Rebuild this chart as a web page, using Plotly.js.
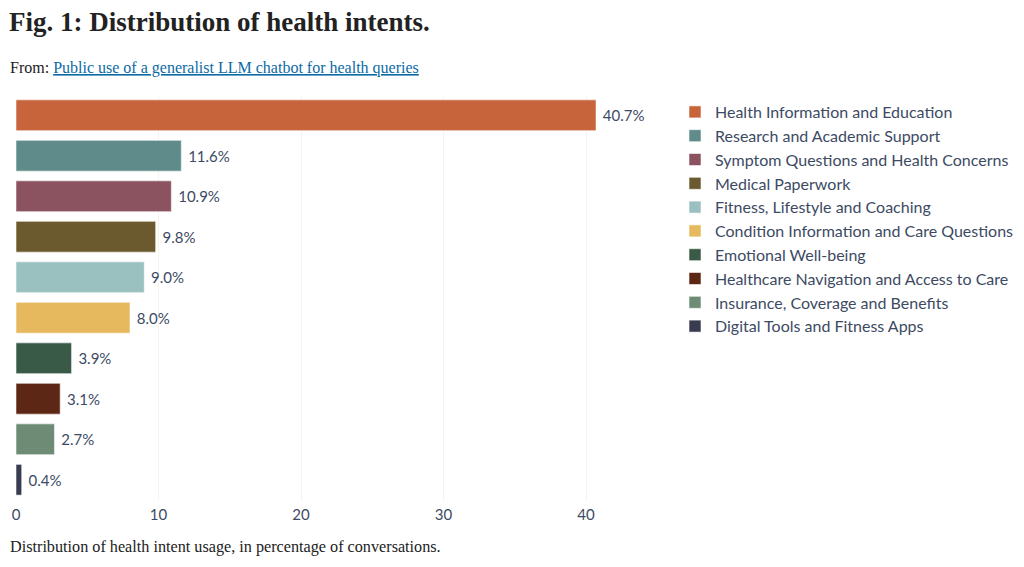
<!DOCTYPE html>
<html>
<head>
<meta charset="utf-8">
<script src="https://cdn.plot.ly/plotly-3.0.1.min.js"></script>
<style>html,body{margin:0;padding:0;background:#fff;}#chart{width:1024px;height:567px;}</style>
</head>
<body>
<div id="chart"></div>
<script>
const categories = [
  "Health Information and Education",
  "Research and Academic Support",
  "Symptom Questions and Health Concerns",
  "Medical Paperwork",
  "Fitness, Lifestyle and Coaching",
  "Condition Information and Care Questions",
  "Emotional Well-being",
  "Healthcare Navigation and Access to Care",
  "Insurance, Coverage and Benefits",
  "Digital Tools and Fitness Apps"
];
const values = [40.7, 11.6, 10.9, 9.8, 9.0, 8.0, 3.9, 3.1, 2.7, 0.4];
const valueLabels = ["40.7%", "11.6%", "10.9%", "9.8%", "9.0%", "8.0%", "3.9%", "3.1%", "2.7%", "0.4%"];
const xTicks = [0, 10, 20, 30, 40];
const colors = ["#C8643C", "#5F8C8A", "#8B5260", "#6B5A2E", "#9AC0C0", "#E6B95E", "#3A5A48", "#5C2714", "#6E8C75", "#393C50"];

const traces = categories.map((c, i) => ({
  type: "bar",
  orientation: "h",
  name: c,
  y: [c],
  x: [values[i]],
  text: [valueLabels[i]],
  texttemplate: " %{text}",
  textposition: "outside",
  cliponaxis: false,
  textfont: {family: "Lato, sans-serif", size: 15, color: "#3d4a63"},
  marker: {color: colors[i], line: {color: "rgba(255,255,255,0.55)", width: 1}},
  legendgroup: "g" + i,
  hoverinfo: "x+name"
}));

const layout = {
  width: 1024, height: 567,
  margin: {l: 16, r: 360, t: 95, b: 67},
  paper_bgcolor: "#fff", plot_bgcolor: "#fff",
  barmode: "overlay",
  bargap: 0.24,
  font: {family: "Lato, sans-serif", color: "#3d4a63"},
  title: {
    text: "<b>Fig. 1: Distribution of health intents.</b>",
    font: {family: "Liberation Serif, serif", size: 27, color: "#222"},
    x: 9/1024, xanchor: "left", xref: "container",
    y: 1 - 22/567, yanchor: "middle", yref: "container"
  },
  xaxis: {
    range: [0, 45.47],
    tickvals: xTicks,
    ticktext: xTicks.map(String),
    showgrid: true, gridcolor: "#f4f4e9", gridwidth: 1,
    zeroline: false, showline: false,
    ticklabelstandoff: 4,
    tickfont: {family: "Lato, sans-serif", size: 15, color: "#3d4a63"},
    fixedrange: true
  },
  yaxis: {
    type: "category",
    categoryorder: "array", categoryarray: categories,
    autorange: "reversed",
    showticklabels: false, showgrid: false, zeroline: false, showline: false,
    fixedrange: true
  },
  showlegend: true,
  legend: {
    xref: "container", yref: "container",
    x: 675 / 1024, xanchor: "left",
    y: 1 - 95 / 567, yanchor: "top",
    font: {family: "Lato, sans-serif", size: 16, color: "#3d4a63"},
    tracegroupgap: 5.7,
    traceorder: "normal",
    bgcolor: "rgba(0,0,0,0)"
  },
  annotations: [
    {
      text: "From: <a href=\"#\" style=\"fill:#0b6aa6;color:#0b6aa6;text-decoration:underline\">Public use of a generalist LLM chatbot for health queries</a>",
      xref: "paper", yref: "paper", x: (8 - 16) / 648, y: (500 - 68) / 405,
      xanchor: "left", yanchor: "middle", showarrow: false,
      font: {family: "Liberation Serif, serif", size: 16, color: "#222"}
    },
    {
      text: "Distribution of health intent usage, in percentage of conversations.",
      xref: "paper", yref: "paper", x: (8 - 16) / 648, y: (500 - 547) / 405,
      xanchor: "left", yanchor: "middle", showarrow: false,
      font: {family: "Liberation Serif, serif", size: 16.2, color: "#222"}
    }
  ]
};

Plotly.newPlot("chart", traces, layout, {displayModeBar: false});
</script>
</body>
</html>
